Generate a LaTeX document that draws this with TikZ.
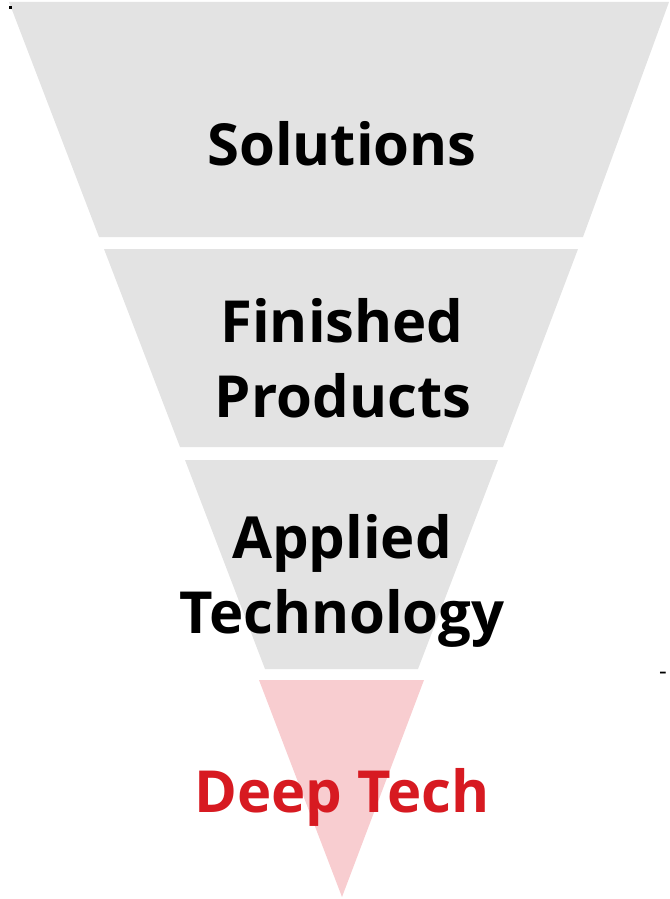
\documentclass[tikz,border=0pt]{standalone}
\usepackage{fontspec}
\setmainfont{Open Sans}
\usepackage{tikz}

\definecolor{funnelgray}{HTML}{E3E3E3}
\definecolor{funnelpink}{HTML}{F8CDD0}
\definecolor{deepred}{HTML}{D71A21}

\begin{document}
\begin{tikzpicture}[
    x=1pt, y=-1pt,
    layer/.style={fill=funnelgray},
    label/.style={anchor=base, inner sep=0pt, font=\fontsize{58}{72}\selectfont\bfseries},
]
    \useasboundingbox (0,0) rectangle (669,899);
    % funnel layers, top to bottom
    \fill[layer] (9,2) -- (669,2) -- (583,237) -- (99,237) -- cycle;
    \fill[layer] (104,249) -- (578,249) -- (503,447) -- (180,447) -- cycle;
    \fill[layer] (185,460) -- (498,460) -- (418,669) -- (265,669) -- cycle;
    \fill[funnelpink] (259,680) -- (424,680) -- (342,897) -- cycle;
    % labels
    \node (solutions) at (342,165) [label] {Solutions};
    \node (finished) at (342,342) [label] {Finished};
    \node (products) at (343,417) [label] {Products};
    \node (applied) at (342,558) [label] {Applied};
    \node (technology) at (342,633) [label] {Technology};
    \node (deeptech) at (342,812) [label,deepred] {Deep Tech};
    % stray marks
    \fill (9,6) rectangle (12,9);
    \node (dash) at (663,676) [inner sep=0pt,font=\fontsize{24}{24}\selectfont] {-};
\end{tikzpicture}
\end{document}
